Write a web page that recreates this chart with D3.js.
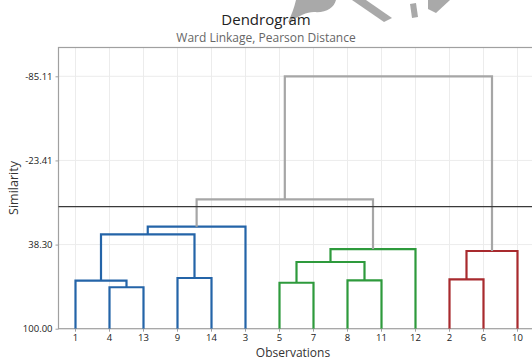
<!DOCTYPE html>
<html><head><meta charset="utf-8">
<script src="https://cdn.jsdelivr.net/npm/d3@7"></script>
<style>html,body{margin:0;padding:0;background:#fff;}svg{display:block;font-family:"Open Sans","Noto Sans",sans-serif;}</style>
</head><body>
<svg id="c" width="532" height="360"></svg>
<script>
// ---- data ----
const leaves = ["1","4","13","9","14","3","5","7","8","11","12","2","6","10"];
// merges: left child, right child (leaf label or "cN" = merge N), similarity level
const mergeLeft  = ["4","1","9","c1","c3","5","8","c5","c7","2","c9","c4","c11"];
const mergeRight = ["13","c0","14","c2","3","7","11","c6","12","6","10","c8","c10"];
const mergeLevel = [69.6,64.8,62.8,30.8,25.2,66.3,64.5,51.1,41.6,63.8,43.0,5.1,-85.11];
const clusterRoots = ["c4","c8","c10"];
const clusterColors = ["#2464a8","#2e9a3c","#a82a2e"];
const linkColor = "#a6a6a6";
const cutLevel = 10.5;
const yTicks = [-85.11,-23.41,38.30,100.00];

// ---- layout ----
const svg = d3.select("#c");
const L = 58.5, R = 534.5, T = 47.5, B = 328.7;
const x = d3.scaleBand().domain(leaves).range([L, R]);
const y = d3.scaleLinear().domain([100, -85.11]).range([B, 76.3]);

// node positions
const pos = {};
leaves.forEach(l => pos[l] = {x: x(l) + x.bandwidth()/2, h: 100});
mergeLevel.forEach((h, i) => {
  const a = pos[mergeLeft[i]], b = pos[mergeRight[i]];
  pos["c"+i] = {x: (a.x + b.x)/2, h: h, a: mergeLeft[i], b: mergeRight[i]};
});
// colour assignment
const colorOf = {};
function paint(id, col) {
  colorOf[id] = col;
  const p = pos[id];
  if (p.a) { paint(p.a, col); paint(p.b, col); }
}
mergeLevel.forEach((h, i) => colorOf["c"+i] = linkColor);
clusterRoots.forEach((r, i) => paint(r, clusterColors[i]));

// watermark shapes (decorative)
const wm = svg.append("g").attr("fill", "#a9a9a9");
wm.append("path").attr("d", "M296,0 L336,0 C334,8 326,13 314,12 C306,12 300,16 288,22 C292,14 294,8 296,0 Z");
wm.append("path").attr("d", "M352,0 L366,0 L392,18 L384,22 Z");
wm.append("path").attr("d", "M410,4 L416,3 L418,17 L412,18 Z");
wm.append("path").attr("d", "M428,0 L450,0 L436,13 L428,9 Z");

// grid
const g = svg.append("g");
g.selectAll("line.vg").data(leaves).join("line")
  .attr("x1", d => x(d)+x.bandwidth()/2).attr("x2", d => x(d)+x.bandwidth()/2)
  .attr("y1", T).attr("y2", B).attr("stroke", "#ececec").attr("stroke-width", 1);
g.selectAll("line.hg").data(yTicks).join("line")
  .attr("x1", L).attr("x2", R).attr("y1", d => y(d)).attr("y2", d => y(d))
  .attr("stroke", "#ececec").attr("stroke-width", 1);

// frame
svg.append("rect").attr("x", L).attr("y", T).attr("width", R-L).attr("height", B-T)
  .attr("fill", "none").attr("stroke", "#a0a0a0").attr("stroke-width", 1.2);

// links
const links = svg.append("g").attr("fill", "none").attr("stroke-width", 2.2)
  .attr("stroke-linejoin", "miter");
mergeLevel.forEach((h, i) => {
  const p = pos["c"+i], a = pos[p.a], b = pos[p.b];
  links.append("path")
    .attr("d", `M${a.x},${y(a.h)}V${y(h)}H${b.x}V${y(b.h)}`)
    .attr("stroke", colorOf["c"+i]);
});

// cut line
svg.append("line").attr("x1", L).attr("x2", R).attr("y1", y(cutLevel)).attr("y2", y(cutLevel))
  .attr("stroke", "#3a3a3a").attr("stroke-width", 1.2);

// axes
const yAxis = svg.append("g").attr("transform", `translate(${L},0)`)
  .call(d3.axisLeft(y).tickValues(yTicks).tickFormat(d => d.toFixed(2)).tickSize(3).tickPadding(3));
yAxis.select(".domain").remove();
yAxis.selectAll("line").attr("stroke", "#a0a0a0");
yAxis.selectAll("text").attr("fill", "#222").style("font-size", "9.5px").style("font-family", "\"Open Sans\",sans-serif");

const xAxis = svg.append("g").attr("transform", `translate(0,${B})`)
  .call(d3.axisBottom(x).tickSize(3).tickPadding(3));
xAxis.select(".domain").remove();
xAxis.selectAll("line").attr("stroke", "#a0a0a0");
xAxis.selectAll("text").attr("fill", "#222").style("font-size", "9.5px").style("font-family", "\"Open Sans\",sans-serif");

// titles
svg.append("text").attr("x", 266).attr("y", 25).attr("text-anchor", "middle")
  .style("font-size", "15px").attr("fill", "#222").text("Dendrogram");
svg.append("text").attr("x", 266).attr("y", 41.5).attr("text-anchor", "middle")
  .style("font-size", "12px").attr("fill", "#666").text("Ward Linkage, Pearson Distance");
svg.append("text").attr("x", 293).attr("y", 356.5).attr("text-anchor", "middle")
  .style("font-size", "12px").attr("fill", "#333").text("Observations");
svg.append("text").attr("transform", "translate(18,188) rotate(-90)").attr("text-anchor", "middle")
  .style("font-size", "12.5px").attr("fill", "#333").text("Similarity");
</script>
</body></html>
